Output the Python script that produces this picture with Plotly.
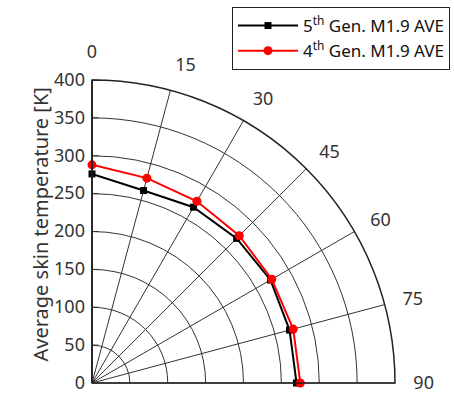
import plotly.graph_objects as go

angles = [0, 15, 30, 45, 60, 75, 90]
gen5 = [276, 263, 268, 270, 272, 270, 270]
gen4 = [288, 280, 277, 275, 274, 275, 275]
radial_ticks = [0, 50, 100, 150, 200, 250, 300, 350, 400]
angle_ticks = [0, 15, 30, 45, 60, 75, 90]

W, H = 454, 394
FONT = "Noto Sans"
TXT = "#333333"

fig = go.Figure()
fig.add_trace(go.Scatterpolar(
    r=gen5, theta=angles, mode="lines+markers",
    name="5<sup>th</sup> Gen. M1.9 AVE",
    line=dict(color="black", width=2),
    marker=dict(symbol="square", size=7, color="black"),
))
fig.add_trace(go.Scatterpolar(
    r=gen4, theta=angles, mode="lines+markers",
    name="4<sup>th</sup> Gen. M1.9 AVE",
    line=dict(color="red", width=2),
    marker=dict(symbol="circle", size=9, color="red"),
))

x0, x1 = 92 / W, 395 / W
y0, y1 = 1 - 383 / H, 1 - 80 / H

fig.update_layout(
    width=W, height=H,
    margin=dict(l=0, r=0, t=0, b=0),
    paper_bgcolor="white",
    font=dict(family=FONT, size=18, color=TXT),
    polar=dict(
        domain=dict(x=[x0, x1], y=[y0, y1]),
        sector=[0, 90],
        bgcolor="white",
        radialaxis=dict(
            range=[0, 400], tickvals=radial_ticks, angle=90, tickangle=90,
            side="counterclockwise", showline=True, linecolor="#222",
            linewidth=1.5, gridcolor="#333", gridwidth=1,
            ticks="inside", ticklen=6, tickcolor="#333",
            tickfont=dict(family=FONT, size=18, color=TXT),
        ),
        angularaxis=dict(
            rotation=90, direction="clockwise",
            tickvals=angle_ticks, ticktext=[str(a) for a in angle_ticks],
            showline=True, linecolor="#222", linewidth=1.5,
            gridcolor="#333", gridwidth=1,
            ticks="outside", ticklen=14, tickcolor="rgba(0,0,0,0)",
            tickfont=dict(family=FONT, size=18, color=TXT),
        ),
    ),
    legend=dict(
        x=450 / W, xanchor="right", y=1 - 7 / H, yanchor="top",
        bordercolor="#222", borderwidth=1, bgcolor="white",
        font=dict(family=FONT, size=17, color="#111"),
        tracegroupgap=0, itemwidth=60,
    ),
    annotations=[dict(
        text="Average skin temperature [K]", textangle=-90,
        x=24 / W, y=1 - 225 / H, xref="paper", yref="paper",
        showarrow=False, font=dict(family=FONT, size=20, color=TXT),
    )],
)

fig.write_html("out.html")
